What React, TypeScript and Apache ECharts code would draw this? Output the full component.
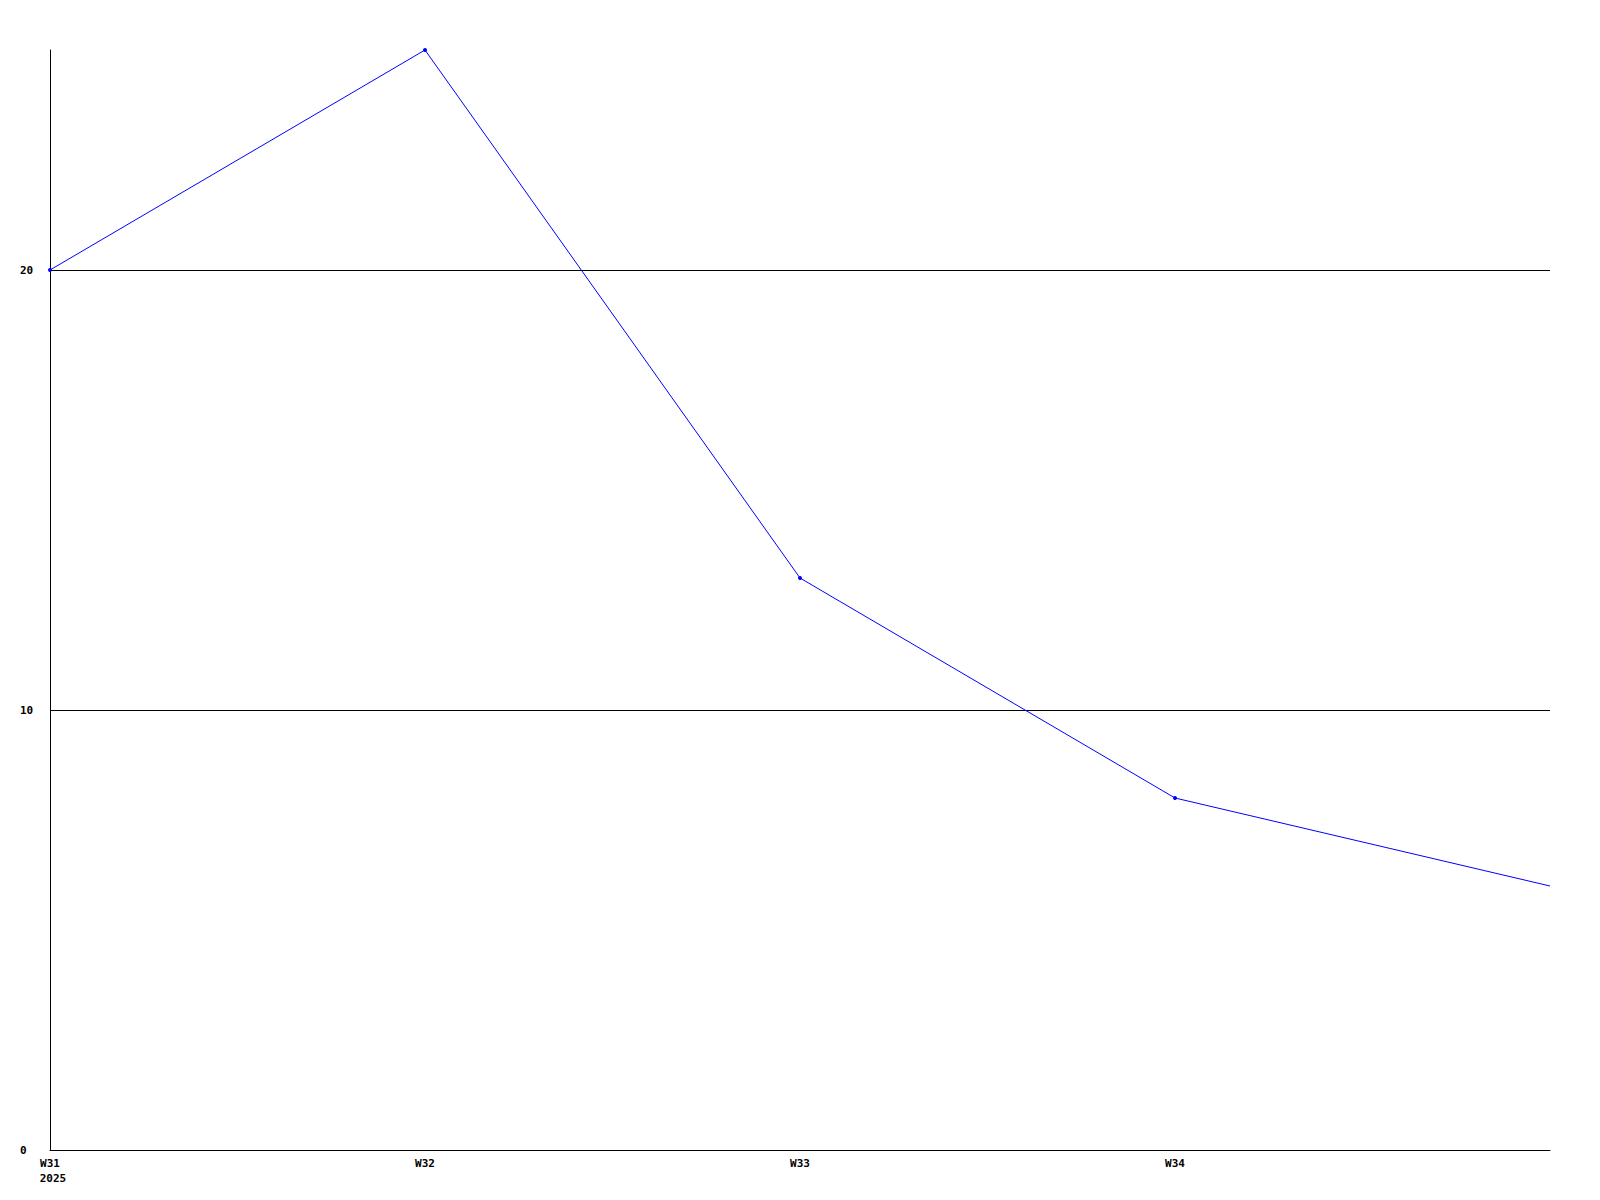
import React, { useEffect, useRef } from "react";
import * as echarts from "echarts";

const categories = ["W31", "W32", "W33", "W34", ""];
const firstYearLabel = "2025";
const values = [20, 25, 13, 8, 6];
const gridLineValues = [10, 20];
const yMax = 25;

export default function App() {
  const ref = useRef<HTMLDivElement>(null);
  useEffect(() => {
    if (!ref.current) return;
    const chart = echarts.init(ref.current, null, { renderer: "svg" });
    const font = {
      fontFamily: "DejaVu Sans Mono",
      fontWeight: "bold" as const,
      fontSize: 11,
      color: "#000",
    };
    chart.setOption({
      animation: false,
      backgroundColor: "#fff",
      grid: { left: 50, right: 50, top: 50, bottom: 50, containLabel: false },
      xAxis: {
        type: "category",
        data: categories,
        boundaryGap: false,
        axisLine: { show: true, lineStyle: { color: "#000", width: 1 } },
        axisTick: { show: false },
        splitLine: { show: false },
        axisLabel: {
          ...font,
          margin: 6,
          lineHeight: 15,
          interval: 0,
          formatter: (v: string, i: number) =>
            i === 0 ? `{a|${v}}\n{b|${firstYearLabel}}` : v,
          rich: {
            a: { ...font, lineHeight: 15 },
            b: { ...font, lineHeight: 15, padding: [0, 0, 0, 6] },
          },
        },
      },
      yAxis: {
        type: "value",
        min: 0,
        max: yMax,
        interval: 10,
        axisLine: { show: true, lineStyle: { color: "#000", width: 1 } },
        axisTick: { show: false },
        splitLine: { show: false },
        axisLabel: {
          ...font,
          align: "left",
          margin: 30,
          showMaxLabel: false,
          formatter: (v: number) => (v === yMax ? "" : String(v)),
        },
      },
      series: [
        {
          type: "line",
          data: values.map((v, i) =>
            i === values.length - 1 ? { value: v, symbol: "none" } : v
          ),
          symbol: "circle",
          symbolSize: 4,
          showSymbol: true,
          clip: false,
          lineStyle: { color: "#0000ff", width: 1 },
          itemStyle: { color: "#0000ff" },
          z: 3,
          markLine: {
            silent: true,
            symbol: "none",
            label: { show: false },
            lineStyle: { color: "#000", width: 1, type: "solid" },
            data: gridLineValues.map((y) => ({ yAxis: y })),
            z: 1,
          },
        },
      ],
    });
    return () => chart.dispose();
  }, []);
  return (
    <div
      ref={ref}
      style={{ position: "fixed", left: 0, top: 0, width: 1600, height: 1200, background: "#fff" }}
    />
  );
}
